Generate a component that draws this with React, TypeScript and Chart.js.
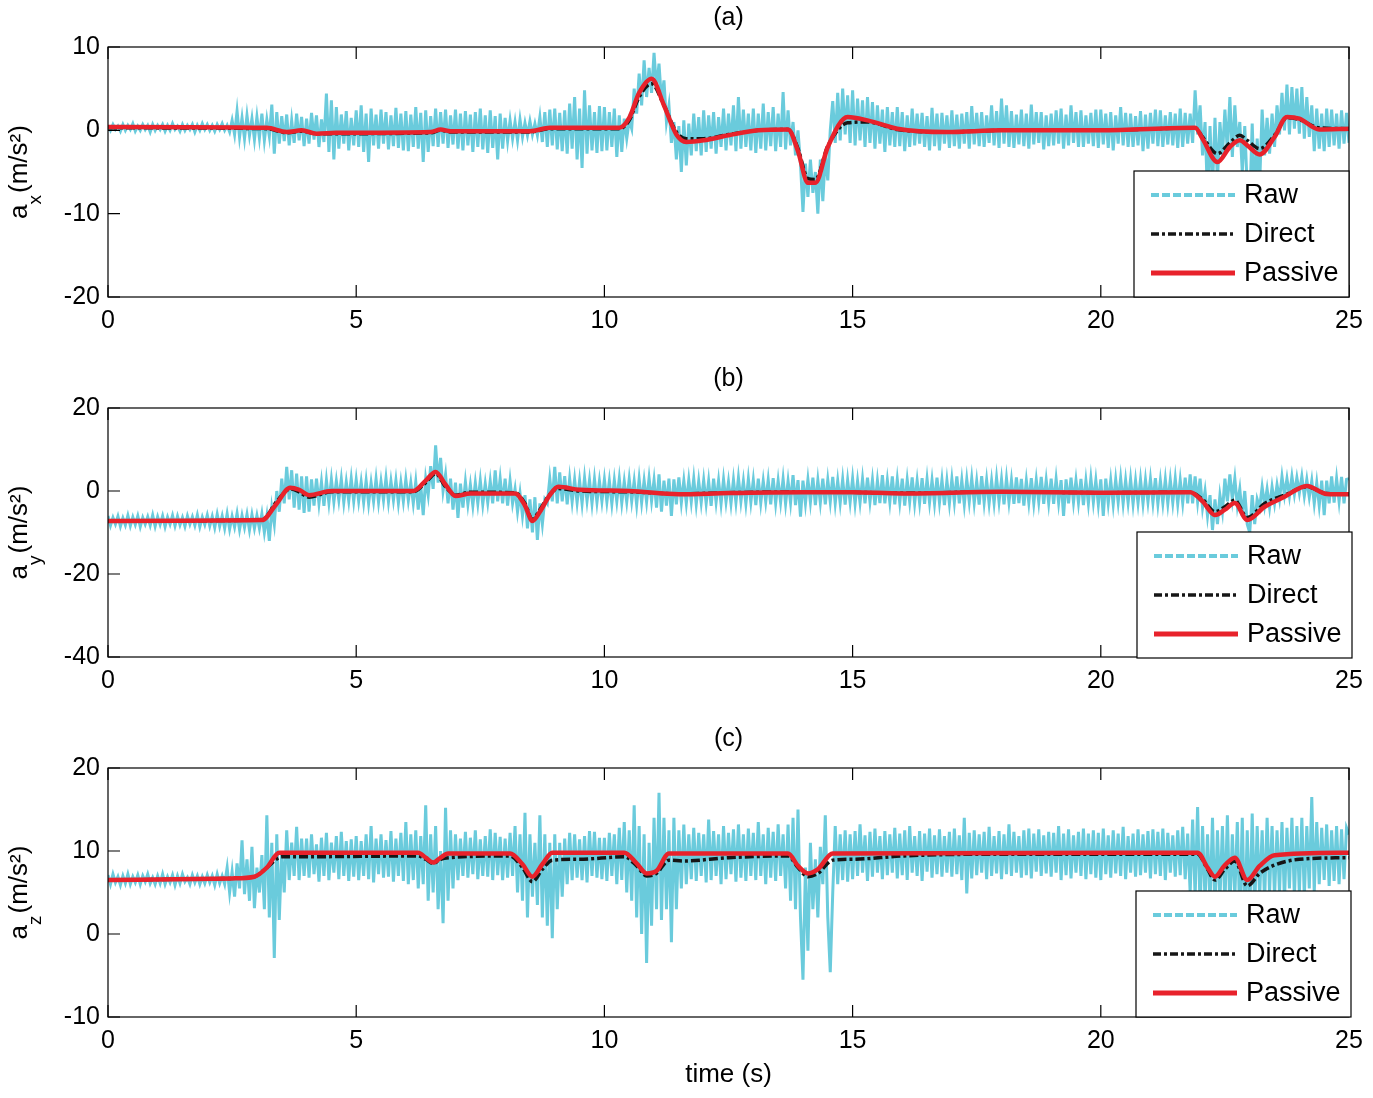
import React, { useEffect, useRef } from "react";
import { Chart, registerables } from "chart.js";

Chart.register(...registerables);

const FONT = '"Liberation Sans", Arial, Helvetica, sans-serif';
const RAW_COLOR = "#6ACBDC";
const DIRECT_COLOR = "#161616";
const PASSIVE_COLOR = "#E8222B";

const xTicks = [0, 5, 10, 15, 20, 25];
const legendLabels = ["Raw", "Direct", "Passive"];
const RAW_STEP = 0.05; // s between raw samples

// ---------- (a) a_x raw, one row per second ----------
const aRaw = [
  0.6, 0.0, 0.7, 0.1, 0.5, -0.1, 0.7, 0.0, 0.6, 0.1, 0.8, -0.1, 0.5, 0.0, 0.7, 0.1, 0.6, -0.2, 0.7, 0.0,
  0.6, 0.1, 0.7, -0.1, 0.6, 0.0, 0.8, 0.1, 0.5, -0.1, 0.7, 0.0, 0.6, 0.1, 0.7, -0.2, 0.6, 0.0, 0.8, 0.1,
  0.7, 0.0, 0.6, -0.1, 0.7, 0.1, 0.8, 0.0, 0.6, -0.2, 1.2, -0.5, 2.3, -0.8, 1.5, -1.0, 1.8, -0.6, 1.4, -1.1,
  1.6, -0.9, 2.0, -1.2, 1.3, -0.7, 3.1, -2.8, 2.2, -1.6, 1.7, -1.3, 1.9, -1.8, 1.2, -1.5, 2.0, -1.2, 1.6, -1.9,
  1.4, -1.6, 2.1, -1.1, 1.8, -2.0, 1.3, -1.4, 4.4, -2.6, 3.6, -3.5, 2.8, -2.2, 1.9, -1.6, 2.3, -2.4, 1.5, -1.8,
  2.4, -2.0, 3.0, -2.6, 2.0, -3.8, 2.6, -1.8, 1.9, -2.2, 2.5, -1.6, 2.2, -2.3, 1.8, -1.9, 2.7, -2.1, 2.0, -2.4,
  2.3, -2.5, 1.9, -2.0, 2.8, -2.2, 2.1, -3.8, 2.4, -2.6, 1.7, -1.9, 2.6, -2.0, 2.2, -1.6, 2.5, -2.1, 1.8, -1.7,
  2.5, -2.2, 2.0, -2.4, 2.3, -1.8, 1.9, -2.6, 2.2, -2.0, 2.6, -2.3, 1.8, -2.7, 2.4, -2.1, 1.7, -3.5, 2.0, -2.2,
  1.5, -1.3, 1.2, -1.0, 1.0, -1.2, 1.3, -0.8, 0.9, -0.6, 1.1, -0.5, 0.8, -0.6, 1.6, -1.4, 2.2, -2.0, 2.5, -1.8,
  2.6, -2.3, 2.1, -2.5, 2.4, -2.8, 3.2, -2.2, 4.0, -3.5, 2.6, -4.5, 4.8, -2.8, 3.0, -2.4, 2.2, -2.7, 2.9, -2.5,
  2.8, -2.4, 2.2, -2.0, 2.6, -3.2, 1.8, -2.6, 1.4, -1.0, 1.2, 0.2, 5.0, 2.0, 6.8, 3.0, 8.4, 4.0, 7.5, 4.5,
  9.3, 5.0, 8.0, 3.5, 6.0, 1.0, 3.0, -1.5, 1.0, -3.5, 0.5, -5.0, 1.2, -4.2, 0.8, -3.0, 2.0, -2.5, 1.6, -3.0,
  2.4, -2.6, 1.8, -2.2, 2.2, -2.8, 1.6, -2.0, 2.6, -2.4, 2.0, -1.8, 3.0, -2.5, 4.0, -2.2, 2.5, -2.0, 2.0, -2.4,
  2.6, -2.7, 2.0, -2.2, 3.2, -2.4, 2.2, -1.9, 2.8, -2.5, 2.0, -2.0, 4.6, -2.3, 2.4, -1.8, 1.0, -3.0, 0.0, -4.0,
  -9.8, -4.0, -8.0, -3.5, -7.5, -5.0, -10.0, -3.5, -8.5, -3.0, -6.0, 0.0, 3.5, -1.5, 4.5, -1.2, 5.0, -0.5, 4.2, -1.5,
  4.8, -1.8, 3.8, -1.2, 3.6, -2.0, 4.0, -1.5, 3.4, -2.2, 3.0, -1.6, 2.5, -2.6, 2.8, -1.8, 2.2, -2.0, 2.8, -1.9,
  2.2, -2.5, 1.8, -2.0, 2.6, -1.8, 2.0, -1.6, 2.1, -2.0, 1.7, -2.4, 2.7, -1.9, 2.0, -2.4, 2.1, -1.6, 1.8, -2.1,
  2.4, -1.9, 1.9, -2.2, 2.0, -1.6, 2.2, -2.2, 2.9, -1.7, 2.1, -1.9, 2.2, -2.0, 1.8, -1.5, 3.0, -1.8, 2.3, -2.1,
  3.8, -1.6, 3.0, -2.0, 2.3, -2.1, 1.9, -1.7, 2.5, -1.9, 2.0, -2.2, 3.1, -1.7, 2.2, -1.5, 2.2, -2.3, 1.8, -1.9,
  2.0, -1.8, 2.4, -1.6, 2.6, -2.2, 1.9, -1.8, 3.0, -1.5, 2.2, -2.0, 2.4, -2.0, 1.8, -1.6, 2.1, -1.9, 2.5, -2.1,
  2.5, -1.7, 2.0, -2.1, 2.2, -2.4, 1.8, -1.6, 2.8, -1.8, 2.1, -2.0, 2.0, -2.0, 1.7, -1.8, 2.3, -2.5, 1.9, -2.2,
  2.1, -1.6, 2.5, -1.9, 2.4, -2.0, 1.8, -1.7, 2.2, -1.8, 2.0, -2.1, 2.6, -2.0, 2.1, -1.6, 2.0, -1.5, 4.8, -0.5,
  3.0, -3.0, 1.0, -8.0, 0.5, -7.0, 1.5, -6.0, 1.0, -3.0, 2.5, -2.5, 4.0, -3.2, 3.0, -2.0, 1.0, -5.0, 0.5, -7.0,
  -9.0, 0.8, -8.0, -1.0, -6.5, 2.5, -3.0, 1.5, -2.8, 2.0, -2.0, 3.0, -0.5, 4.5, 0.0, 5.5, -0.5, 5.2, 0.2, 5.0,
  -0.4, 5.2, -1.0, 4.0, -0.8, 3.0, -2.5, 2.6, -2.2, 2.0, -2.5, 2.6, -2.0, 2.5, -1.8, 2.0, -2.2, 2.4, -1.6, 2.1,
  -1.5,
];
const aFiltTime = [
  0, 3.2, 3.6, 3.9, 4.2, 4.6, 6.5, 6.7, 6.9, 8.5, 8.9, 10.3, 10.5, 10.7, 10.95,
  11.2, 11.45, 11.65, 12.0, 12.5, 13.1, 13.7, 13.9, 14.1, 14.25, 14.5, 14.9,
  15.3, 15.9, 16.9, 18.0, 20.0, 21.9, 22.05, 22.35, 22.6, 22.8, 22.95, 23.2,
  23.5, 23.75, 24.0, 24.4, 25,
];
const aPassive = [
  0.4, 0.3, -0.2, 0.0, -0.4, -0.3, -0.2, 0.1, -0.1, -0.1, 0.3, 0.3, 1.5, 4.5,
  6.2, 3.0, -0.5, -1.4, -1.2, -0.6, 0.0, 0.1, -2.5, -6.3, -6.3, -2.0, 1.6, 1.2,
  0.2, -0.2, 0.0, 0.0, 0.3, -1.0, -3.8, -2.0, -1.2, -1.8, -2.9, -0.8, 1.6, 1.4,
  0.1, 0.2,
];
const aDirect = [
  0.3, 0.2, -0.3, -0.1, -0.4, -0.4, -0.3, 0.0, -0.2, -0.2, 0.2, 0.2, 1.2, 4.0,
  5.6, 3.0, -0.2, -1.0, -1.0, -0.5, 0.0, 0.1, -2.2, -5.8, -5.9, -1.9, 0.9, 1.0,
  0.1, -0.2, 0.0, 0.0, 0.3, -0.8, -2.8, -1.5, -0.6, -1.2, -2.2, -0.6, 1.5, 1.3,
  0.3, 0.2,
];

// ---------- (b) a_y raw, one row per second ----------
const bRaw = [
  -6.0, -8.3, -6.4, -8.0, -6.1, -8.5, -6.5, -8.2, -5.9, -8.4, -6.3, -8.1, -6.0, -8.6, -6.4, -8.0, -6.2, -8.3, -5.8, -8.5,
  -6.2, -8.1, -6.0, -8.6, -6.3, -8.0, -5.9, -8.4, -6.1, -8.2, -6.4, -8.5, -6.0, -8.0, -6.2, -8.3, -5.8, -8.6, -6.3, -8.1,
  -5.8, -8.4, -6.1, -8.8, -5.6, -8.5, -6.0, -9.0, -5.5, -9.2, -6.1, -8.7, -5.4, -9.3, -5.9, -8.8, -5.6, -9.4, -5.7, -9.0,
  -5.9, -9.0, -5.5, -10.0, -6.0, -12.0, -4.0, -8.0, 0.0, -5.0, 3.0, -3.0, 5.8, -2.0, 5.0, -4.0, 4.2, -4.5, 3.5, -5.3,
  3.5, -5.0, 2.8, -3.5, 3.0, -3.0, 2.2, -3.6, 2.6, -2.8, 2.8, -2.6, 2.4, -2.2, 2.9, -2.8, 2.2, -2.4, 3.0, -2.5,
  2.7, -2.4, 2.2, -2.8, 2.5, -3.0, 2.0, -2.5, 2.9, -2.7, 2.3, -2.2, 3.1, -2.6, 2.4, -2.2, 2.6, -2.9, 2.1, -2.5,
  2.8, -2.3, 2.0, -3.0, 2.2, -4.5, 1.5, -5.8, 3.0, -1.0, 6.0, 0.5, 11.0, 2.0, 8.0, 0.0, 4.0, -3.0, 3.0, -4.5,
  2.0, -6.5, 1.8, -4.0, 2.2, -3.2, 1.5, -3.5, 2.0, -3.0, 2.5, -3.2, 1.8, -2.8, 2.4, -3.0, 5.0, -2.5, 3.0, -3.0,
  3.0, -3.5, 2.5, -3.0, 0.5, -5.0, -0.5, -6.0, -1.0, -9.0, -2.0, -10.0, -1.5, -11.8, -3.0, -8.0, -2.0, -3.0, 3.0, -2.5,
  5.8, -3.0, 4.5, -2.5, 3.6, -3.2, 3.0, -2.6, 2.8, -2.8, 2.5, -3.0, 3.2, -2.4, 2.6, -3.0, 2.9, -2.7, 2.4, -2.5,
  2.8, -2.6, 2.4, -3.1, 2.6, -2.5, 3.0, -2.9, 2.3, -2.6, 2.9, -2.5, 2.4, -3.3, 2.9, -2.8, 2.5, -2.6, 3.1, -2.4,
  2.6, -4.0, 4.0, -5.0, 2.5, -3.5, 3.0, -6.0, 2.8, -3.2, 3.3, -2.8, 2.5, -3.0, 2.7, -2.6, 3.0, -3.2, 2.4, -2.8,
  2.6, -3.0, 2.4, -3.6, 3.0, -2.7, 2.5, -3.1, 2.8, -2.6, 2.2, -3.0, 2.7, -2.8, 3.2, -2.5, 2.4, -3.1, 2.9, -2.7,
  2.6, -3.4, 3.0, -2.9, 2.4, -2.6, 2.7, -3.2, 3.1, -3.0, 2.5, -2.7, 2.9, -3.1, 2.4, -2.8, 3.8, -3.4, 2.6, -6.2,
  2.5, -3.0, 2.8, -2.7, 3.2, -3.4, 2.6, -2.8, 3.0, -3.2, 2.7, -2.6, 3.4, -3.0, 2.5, -2.9, 2.8, -3.3, 2.6, -2.7,
  3.0, -3.1, 2.4, -2.8, 2.9, -3.0, 3.2, -2.6, 2.7, -3.4, 2.5, -2.9, 3.8, -3.0, 2.6, -2.7, 3.5, -3.2, 2.8, -2.8,
  3.0, -3.5, 2.7, -2.6, 3.3, -3.0, 2.5, -2.9, 3.1, -3.1, 2.9, -2.8, 2.6, -3.0, 3.2, -2.8, 2.7, -3.4, 2.5, -3.0,
  2.9, -2.7, 3.5, -3.0, 2.6, -3.2, 2.8, -2.6, 3.1, -2.9, 2.4, -3.3, 3.6, -2.8, 2.7, -3.0, 2.5, -2.9, 3.2, -2.6,
  2.8, -3.2, 3.0, -2.7, 2.6, -3.1, 3.3, -2.9, 2.9, -3.5, 2.5, -2.8, 3.1, -3.0, 2.7, -2.6, 3.4, -3.1, 2.6, -2.9,
  3.0, -3.1, 2.9, -2.8, 2.6, -6.0, 2.8, -3.0, 3.2, -2.7, 2.6, -2.8, 2.9, -3.4, 2.5, -3.0, 3.1, -2.7, 2.6, -3.2,
  2.8, -6.0, 3.0, -2.9, 2.6, -3.2, 2.8, -2.7, 3.1, -3.0, 2.6, -2.8, 2.9, -3.1, 2.5, -2.9, 2.8, -3.0, 2.7, -2.6,
  2.9, -2.8, 3.1, -3.1, 2.5, -2.9, 2.8, -3.0, 2.7, -2.8, 3.0, -3.1, 2.6, -2.9, 3.2, -3.0, 4.0, -3.0, 3.5, -2.6,
  3.0, -4.0, 0.0, -6.0, -1.0, -9.4, -2.0, -8.0, -1.0, -5.0, 3.0, -2.5, 4.0, -2.0, 3.0, -3.5, 0.5, -6.0, 0.0, -8.0,
  -10.0, -1.0, -8.0, -2.0, -4.0, 1.0, -3.5, 0.5, -4.0, 1.0, -3.0, 1.5, -2.0, 3.5, -1.0, 3.0, -1.2, 3.5, -0.8, 3.2,
  -0.5, 3.5, -1.2, 2.8, -1.5, 2.5, -3.0, 2.0, -3.5, 2.5, -5.8, 2.5, -3.0, 3.5, -2.8, 3.0, -2.5, 3.4, -3.0, 2.8,
  3.0,
];
const bFiltTime = [
  0, 3.1, 3.4, 3.67, 3.85, 4.05, 4.5, 6.15, 6.4, 6.6, 6.8, 7.0, 7.3, 8.2, 8.4,
  8.55, 8.7, 8.9, 9.07, 9.5, 10.5, 11.5, 12.5, 14, 15, 16, 18, 20, 21.8, 22.05,
  22.3, 22.5, 22.7, 22.95, 23.3, 23.7, 24.15, 24.55, 25,
];
const bPassive = [
  -7.2, -7.0, -3.0, 0.8, 0.3, -1.0, 0.0, 0.0, 2.5, 4.6, 1.5, -1.2, -0.6, -0.6,
  -3.5, -7.2, -5.0, -1.0, 1.0, 0.3, 0.0, -0.8, -0.5, -0.3, -0.3, -0.6, -0.2,
  -0.4, -0.3, -2.5, -5.8, -4.5, -2.9, -7.0, -3.8, -1.4, 1.2, -0.7, -0.8,
];
const bDirect = [
  -7.2, -7.0, -2.5, 0.5, -0.2, -1.5, -0.2, -0.2, 2.0, 4.2, 1.0, -1.0, -0.3,
  -0.4, -3.0, -6.8, -4.5, -0.8, 0.6, 0.0, -0.2, -0.7, -0.4, -0.2, -0.3, -0.5,
  -0.2, -0.4, -0.3, -2.0, -5.0, -3.8, -2.2, -6.4, -3.0, -1.0, 1.0, -0.6, -0.7,
];

// ---------- (c) a_z raw, one row per second ----------
const cRaw = [
  7.1, 6.0, 7.2, 6.2, 6.9, 5.9, 7.0, 6.1, 7.2, 6.0, 6.9, 6.2, 7.1, 6.0, 7.0, 6.3, 7.2, 6.1, 6.8, 6.0,
  7.0, 6.1, 7.2, 6.0, 6.9, 6.2, 7.1, 5.9, 7.0, 6.1, 7.2, 6.3, 6.8, 6.0, 7.1, 6.2, 7.0, 6.0, 6.9, 6.1,
  7.1, 6.2, 7.0, 5.9, 7.2, 6.1, 7.0, 6.0, 8.0, 5.0, 7.5, 4.5, 8.5, 5.5, 11.3, 4.8, 9.0, 4.0, 10.5, 3.1,
  8.0, 5.0, 9.5, 3.0, 14.3, 2.0, 11.0, -2.9, 12.0, 1.7, 10.0, 5.0, 12.5, 6.5, 11.0, 7.0, 12.9, 6.5, 11.5, 7.0,
  11.5, 6.8, 12.0, 7.2, 10.8, 6.3, 11.6, 7.0, 12.2, 6.5, 11.0, 7.4, 11.8, 6.6, 12.3, 7.0, 11.2, 6.4, 11.4, 6.9,
  11.8, 6.5, 11.2, 7.0, 12.0, 6.6, 13.0, 6.2, 11.5, 7.2, 12.0, 6.8, 11.3, 6.9, 12.4, 6.3, 11.5, 7.0, 12.2, 6.4,
  13.5, 6.0, 12.0, 6.5, 12.5, 5.5, 11.8, 6.0, 15.5, 4.0, 12.0, 5.0, 13.0, 3.0, 10.0, 1.3, 15.2, 4.0, 12.5, 5.5,
  12.0, 6.5, 11.5, 7.0, 12.3, 6.8, 11.6, 7.2, 12.5, 6.6, 11.4, 7.0, 11.8, 6.9, 12.6, 6.5, 12.2, 7.1, 11.7, 6.5,
  11.5, 6.8, 12.2, 7.0, 13.0, 5.0, 12.0, 4.0, 14.6, 2.0, 12.0, 4.5, 11.0, 3.5, 14.3, 2.0, 12.0, 1.0, 11.0, -0.5,
  12.0, 3.0, 11.0, 4.5, 11.5, 6.0, 12.2, 6.5, 12.0, 6.8, 11.4, 6.5, 11.8, 6.2, 12.4, 7.0, 12.3, 6.8, 11.6, 6.6,
  11.6, 6.4, 12.2, 7.0, 12.0, 6.0, 12.8, 6.5, 13.5, 5.0, 12.5, 4.0, 15.5, 2.0, 13.0, 0.0, 12.0, -3.5, 11.0, 1.0,
  14.0, 3.0, 17.0, 1.7, 14.0, 3.0, 12.5, -1.0, 14.0, 3.0, 12.5, 5.5, 13.2, 6.0, 12.0, 6.6, 12.8, 6.4, 12.2, 7.0,
  12.0, 6.2, 13.8, 6.5, 12.4, 7.0, 12.0, 6.0, 13.0, 6.6, 12.2, 7.2, 12.6, 6.3, 13.2, 6.8, 12.0, 6.4, 12.7, 7.0,
  12.2, 6.5, 13.5, 7.0, 12.0, 6.0, 12.8, 6.8, 12.3, 6.4, 13.2, 7.0, 12.0, 5.5, 13.2, 4.0, 14.0, 3.0, 15.0, 2.0,
  -5.5, 8.0, -2.0, 11.0, 3.0, 9.0, 2.0, 10.5, 6.0, 14.3, 2.0, -4.6, 5.0, 13.0, 6.0, 12.0, 6.5, 12.5, 6.3, 12.0,
  6.6, 12.4, 7.0, 13.2, 7.4, 11.9, 6.4, 12.3, 6.9, 12.7, 7.4, 11.8, 6.6, 12.4, 7.1, 12.0, 7.4, 12.8, 6.7, 12.1,
  7.1, 12.5, 6.5, 13.0, 7.4, 11.8, 7.0, 12.4, 6.4, 12.1, 7.5, 12.7, 6.8, 11.9, 7.2, 12.6, 6.9, 11.8, 7.4, 12.3,
  6.9, 12.7, 7.2, 11.9, 6.5, 14.0, 4.9, 12.2, 6.7, 12.5, 7.1, 12.0, 7.4, 12.3, 6.6, 12.9, 7.0, 11.8, 7.3, 12.4,
  6.6, 12.0, 7.2, 13.2, 7.0, 12.3, 7.4, 11.8, 6.8, 12.5, 7.1, 12.7, 6.7, 12.1, 7.5, 12.6, 7.0, 11.9, 7.3, 12.3,
  6.9, 12.2, 7.4, 13.0, 6.5, 12.1, 7.1, 12.6, 6.7, 11.9, 7.4, 12.3, 7.0, 12.7, 6.6, 12.1, 7.2, 12.5, 6.8, 12.2,
  6.5, 12.7, 7.2, 11.9, 6.8, 12.5, 7.3, 12.1, 7.0, 12.9, 6.6, 11.8, 7.4, 12.1, 6.9, 12.6, 7.1, 12.0, 7.4, 12.4,
  6.7, 12.6, 7.2, 12.3, 7.0, 12.7, 6.5, 12.2, 7.4, 11.9, 6.9, 12.5, 7.1, 12.9, 6.6, 12.1, 5.0, 13.8, 4.5, 15.3,
  3.0, 13.0, 4.0, 12.0, 3.5, 14.0, 2.5, 12.5, 4.0, 13.0, 3.5, 14.3, 3.0, 12.0, 4.5, 13.5, 2.0, 14.0, 1.0, 12.5,
  2.0, 14.5, 3.0, 13.0, 4.5, 12.5, 4.0, 14.0, 5.0, 13.0, 4.5, 12.5, 5.0, 13.5, 4.0, 12.8, 5.5, 14.0, 4.5, 13.0,
  5.0, 14.0, 4.5, 13.0, 5.5, 16.5, 5.0, 13.5, 6.0, 12.8, 6.5, 13.2, 5.8, 12.5, 6.4, 13.0, 6.0, 12.6, 6.6, 12.8,
  12.0,
];
const cPassiveTime = [
  0, 2.5, 2.95, 3.2, 3.45, 6.25, 6.4, 6.55, 6.7, 6.85, 8.1, 8.35, 8.55, 8.75,
  8.95, 10.4, 10.65, 10.85, 11.05, 11.3, 13.7, 13.9, 14.1, 14.3, 14.6, 21.95,
  22.15, 22.3, 22.5, 22.7, 22.95, 23.2, 23.5, 25,
];
const cPassive = [
  6.5, 6.7, 6.9, 8.0, 9.8, 9.8, 9.2, 8.6, 9.2, 9.7, 9.7, 8.4, 6.9, 8.4, 9.8,
  9.8, 8.5, 7.3, 7.6, 9.7, 9.7, 8.2, 7.3, 7.8, 9.7, 9.8, 8.0, 6.9, 8.3, 9.2,
  6.5, 8.2, 9.5, 9.8,
];
const cDirectTime = [
  0, 2.5, 2.95, 3.2, 3.5, 3.7, 6.25, 6.4, 6.55, 6.7, 6.9, 8.1, 8.35, 8.55, 8.75,
  8.95, 9.5, 10.4, 10.65, 10.85, 11.05, 11.3, 11.6, 12.5, 13.7, 13.9, 14.1,
  14.3, 14.6, 15.0, 16.0, 17.5, 21.95, 22.15, 22.3, 22.5, 22.7, 22.95, 23.2,
  23.5, 24.0, 25,
];
const cDirect = [
  6.5, 6.7, 6.9, 8.0, 9.3, 9.3, 9.4, 9.0, 8.5, 9.0, 9.2, 9.4, 8.0, 6.3, 7.8,
  8.9, 9.0, 9.3, 8.2, 7.0, 7.3, 8.9, 8.8, 9.2, 9.4, 8.0, 6.9, 7.3, 8.9, 9.0,
  9.4, 9.6, 9.6, 7.8, 6.5, 7.8, 8.8, 5.8, 7.3, 8.3, 9.0, 9.2,
];

type PanelSpec = {
  key: string;
  title: string;
  sub: string;
  raw: number[];
  pTime: number[];
  passive: number[];
  dTime: number[];
  direct: number[];
  yMin: number;
  yMax: number;
  yStep: number;
  top: number;
  height: number;
  padTop: number;
  legendDx: number;
  legendDy: number;
  xTitle: boolean;
};

const PANELS: PanelSpec[] = [
  {
    key: "a", title: "(a)", sub: "x", raw: aRaw,
    pTime: aFiltTime, passive: aPassive, dTime: aFiltTime, direct: aDirect,
    yMin: -20, yMax: 10, yStep: 10,
    top: 0, height: 360, padTop: 47, legendDx: 0, legendDy: 0, xTitle: false,
  },
  {
    key: "b", title: "(b)", sub: "y", raw: bRaw,
    pTime: bFiltTime, passive: bPassive, dTime: bFiltTime, direct: bDirect,
    yMin: -40, yMax: 20, yStep: 20,
    top: 360, height: 360, padTop: 48, legendDx: 3, legendDy: 1, xTitle: false,
  },
  {
    key: "c", title: "(c)", sub: "z", raw: cRaw,
    pTime: cPassiveTime, passive: cPassive, dTime: cDirectTime, direct: cDirect,
    yMin: -10, yMax: 20, yStep: 10,
    top: 720, height: 378, padTop: 48, legendDx: 2, legendDy: 0, xTitle: true,
  },
];

function PanelChart({ p }: { p: PanelSpec }) {
  const ref = useRef<HTMLCanvasElement>(null);

  useEffect(() => {
    const canvas = ref.current;
    if (!canvas) return;
    const xy = (xs: number[], ys: number[]) => ys.map((y, i) => ({ x: xs[i], y }));
    const rawPoints = p.raw.map((y, i) => ({ x: Math.round(i * RAW_STEP * 100) / 100, y }));

    const frame = {
      id: "frame" + p.key,
      afterDraw(chart: any) {
        const { ctx, chartArea: a } = chart;
        const xs = chart.scales.x;
        const ys = chart.scales.y;
        ctx.save();
        ctx.setLineDash([]);
        ctx.strokeStyle = "#000";
        ctx.lineWidth = 1.2;
        ctx.strokeRect(a.left, a.top, a.right - a.left, a.bottom - a.top);
        ctx.beginPath();
        xTicks.forEach((t) => {
          const px = xs.getPixelForValue(t);
          ctx.moveTo(px, a.bottom);
          ctx.lineTo(px, a.bottom - 12);
          ctx.moveTo(px, a.top);
          ctx.lineTo(px, a.top + 12);
        });
        ys.ticks.forEach((tk: any) => {
          const py = ys.getPixelForValue(tk.value);
          ctx.moveTo(a.left, py);
          ctx.lineTo(a.left + 12, py);
        });
        ctx.stroke();

        // legend box
        const lw = 215;
        const lh = 126;
        const lx = a.right - lw + p.legendDx;
        const ly = a.bottom - lh + p.legendDy;
        ctx.fillStyle = "#fff";
        ctx.fillRect(lx, ly, lw, lh);
        ctx.strokeStyle = "#000";
        ctx.lineWidth = 1.2;
        ctx.strokeRect(lx, ly, lw, lh);
        const rows = [
          { color: RAW_COLOR, width: 4, dash: [8, 3] },
          { color: DIRECT_COLOR, width: 3.5, dash: [8, 3, 3, 3] },
          { color: PASSIVE_COLOR, width: 5, dash: [] as number[] },
        ];
        rows.forEach((r, i) => {
          const cy = ly + 24 + i * 39;
          ctx.beginPath();
          ctx.strokeStyle = r.color;
          ctx.lineWidth = r.width;
          ctx.setLineDash(r.dash);
          ctx.moveTo(lx + 17, cy);
          ctx.lineTo(lx + 101, cy);
          ctx.stroke();
          ctx.setLineDash([]);
          ctx.fillStyle = "#000";
          ctx.font = `27px ${FONT}`;
          ctx.textAlign = "left";
          ctx.textBaseline = "middle";
          ctx.fillText(legendLabels[i], lx + 110, cy + 1);
        });

        // panel title
        ctx.fillStyle = "#000";
        ctx.font = `25px ${FONT}`;
        ctx.textAlign = "center";
        ctx.textBaseline = "middle";
        ctx.fillText(p.title, (a.left + a.right) / 2, a.top - 29);

        // x title
        if (p.xTitle) {
          ctx.font = `26px ${FONT}`;
          ctx.fillText("time (s)", (a.left + a.right) / 2, a.bottom + 58);
        }

        // y title a_?(m/s²)
        ctx.save();
        ctx.translate(27, (a.top + a.bottom) / 2);
        ctx.rotate(-Math.PI / 2);
        ctx.textAlign = "left";
        ctx.textBaseline = "alphabetic";
        const mainFont = `26px ${FONT}`;
        const subFont = `19px ${FONT}`;
        ctx.font = mainFont;
        const w1 = ctx.measureText("a").width;
        const w3 = ctx.measureText("(m/s²)").width;
        ctx.font = subFont;
        const w2 = ctx.measureText(p.sub).width;
        const total = w1 + w2 + 2 + w3;
        const x0 = -total / 2;
        ctx.font = mainFont;
        ctx.fillText("a", x0, 0);
        ctx.font = subFont;
        ctx.fillText(p.sub, x0 + w1, 14);
        ctx.font = mainFont;
        ctx.fillText("(m/s²)", x0 + w1 + w2 + 2, 0);
        ctx.restore();

        ctx.restore();
      },
    };

    const chart = new Chart(canvas, {
      type: "line",
      data: {
        datasets: [
          {
            label: "Passive",
            data: xy(p.pTime, p.passive),
            borderColor: PASSIVE_COLOR,
            backgroundColor: PASSIVE_COLOR,
            borderWidth: 4.5,
            pointRadius: 0,
            cubicInterpolationMode: "monotone",
            fill: false,
          },
          {
            label: "Direct",
            data: xy(p.dTime, p.direct),
            borderColor: DIRECT_COLOR,
            backgroundColor: DIRECT_COLOR,
            borderWidth: 3.5,
            borderDash: [9, 3, 3, 3],
            pointRadius: 0,
            cubicInterpolationMode: "monotone",
            fill: false,
          },
          {
            label: "Raw",
            data: rawPoints,
            borderColor: RAW_COLOR,
            backgroundColor: RAW_COLOR,
            borderWidth: 3,
            pointRadius: 0,
            tension: 0,
            fill: false,
          },
        ],
      },
      options: {
        responsive: false,
        animation: false,
        events: [],
        layout: { padding: { left: 0, right: 24, top: p.padTop, bottom: 0 } },
        plugins: {
          legend: { display: false },
          tooltip: { enabled: false },
          title: { display: false },
        },
        scales: {
          x: {
            type: "linear",
            min: 0,
            max: 25,
            grid: { display: false, drawTicks: false },
            border: { display: false },
            ticks: {
              stepSize: 5,
              padding: 9,
              color: "#000",
              maxRotation: 0,
              font: { size: 25, family: FONT },
            },
            afterFit: (s: any) => {
              s.height = p.height - 297;
            },
          },
          y: {
            type: "linear",
            min: p.yMin,
            max: p.yMax,
            grid: { display: false, drawTicks: false },
            border: { display: false },
            ticks: {
              stepSize: p.yStep,
              padding: 8,
              color: "#000",
              font: { size: 25, family: FONT },
            },
            afterFit: (s: any) => {
              s.width = 108;
            },
          },
        },
      } as any,
      plugins: [frame],
    });
    return () => chart.destroy();
  }, [p]);

  return (
    <canvas
      ref={ref}
      width={1373}
      height={p.height}
      style={{ position: "absolute", left: 0, top: p.top, width: 1373, height: p.height }}
    />
  );
}

export default function App() {
  return (
    <div
      style={{
        position: "absolute",
        left: 0,
        top: 0,
        width: 1373,
        height: 1098,
        background: "#fff",
        fontFamily: FONT,
      }}
    >
      {PANELS.map((p) => (
        <PanelChart key={p.key} p={p} />
      ))}
    </div>
  );
}
